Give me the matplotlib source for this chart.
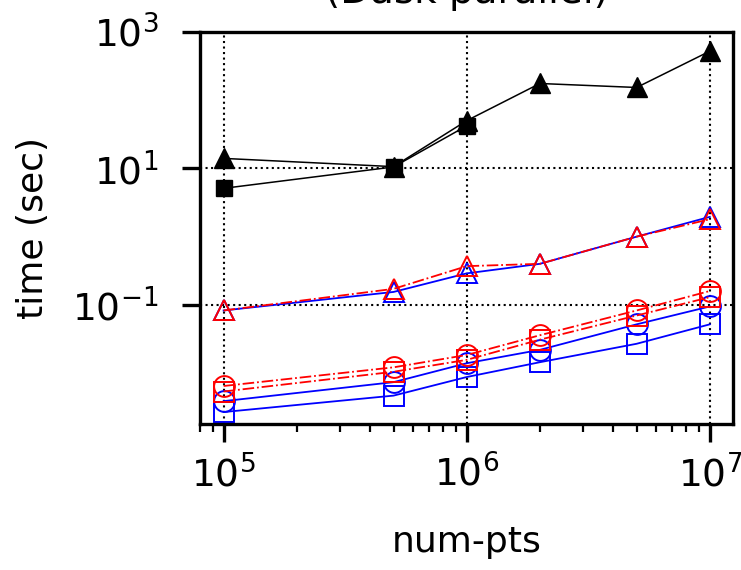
import matplotlib
matplotlib.use("Agg")
import matplotlib.pyplot as plt
from matplotlib.ticker import LogLocator, NullLocator

# timings (seconds)
n_pts = [1e5, 5e5, 1e6, 2e6, 5e6, 1e7]
black_tri = [14, 10.6, 50, 175, 153, 520]
sq_pts = [1e5, 5e5, 1e6]
black_sq = [5.1, 10.5, 42]
blue_tri = [0.083, 0.155, 0.29, 0.40, 1.0, 1.95]
red_tri = [0.083, 0.172, 0.37, 0.40, 1.0, 1.8]
red_circ = [0.0065, 0.0122, 0.0185, 0.036, 0.083, 0.16]
red_sq = [0.0054, 0.0105, 0.0157, 0.031, 0.070, 0.13]
blue_circ = [0.0039, 0.0074, 0.014, 0.022, 0.052, 0.095]
blue_sq = [0.0027, 0.0047, 0.0088, 0.0145, 0.027, 0.052]

fig = plt.figure(figsize=(7.41, 5.70), dpi=100)
ax = fig.add_axes([0.270, 0.256, 0.7197, 0.6882])

# black (reference) curves
ax.plot(n_pts, black_tri, "-", color="black", lw=1.1, marker="^", ms=15)
ax.plot(sq_pts, black_sq, "-", color="black", lw=1.1, marker="s", ms=12)

# blue solid
open_kw = dict(ms=15, mfc="none", mew=1.4)
ax.plot(n_pts, blue_sq, "-", color="blue", lw=1.3, marker="s", **open_kw)
ax.plot(n_pts, blue_circ, "-", color="blue", lw=1.3, marker="o", **open_kw)
ax.plot(n_pts, blue_tri, "-", color="blue", lw=1.3, marker="^", **open_kw)
# red dash-dot
ax.plot(n_pts, red_sq, "-.", color="red", lw=1.3, marker="s", **open_kw)
ax.plot(n_pts, red_circ, "-.", color="red", lw=1.3, marker="o", **open_kw)
ax.plot(n_pts, red_tri, "-.", color="red", lw=1.3, marker="^", **open_kw)

ax.set_xscale("log")
ax.set_yscale("log")
ax.set_xlim(8.0e4, 1.25e7)
ax.set_ylim(1.8e-3, 1e3)
ax.set_yticks([1e-1, 1e1, 1e3])
ax.yaxis.set_minor_locator(NullLocator())
ax.xaxis.set_major_locator(LogLocator(base=10))

ax.grid(True, which="major", linestyle=":", color="black", lw=1.5)
for s in ax.spines.values():
    s.set_linewidth(2.4)
ax.tick_params(which="major", direction="out", length=13, width=2.4, labelsize=27)
ax.tick_params(which="minor", direction="out", length=6, width=1.6)
ax.tick_params(axis="x", which="major", pad=9)
ax.tick_params(axis="y", which="major", pad=17)

ax.set_xlabel("num-pts", fontsize=26, labelpad=22)
ax.set_ylabel("time (sec)", fontsize=26, labelpad=16)

# title is cut by the top edge in the reference
fig.text(0.63, 0.994, "(Dask parallel)", fontsize=28, ha="center", va="baseline")

fig.savefig("out.png", dpi=100)
